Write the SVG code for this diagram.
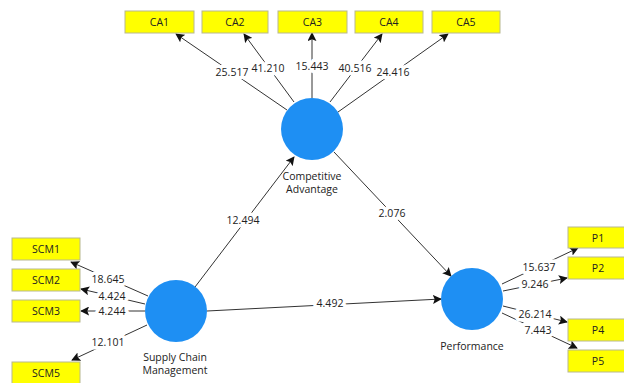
<svg xmlns="http://www.w3.org/2000/svg" width="624" height="383" viewBox="0 0 624 383">
  <style>
    .ind rect { fill: #ffff00; stroke: #b8b890; stroke-width: 1; }
    .ind text, .lv text { font-family: "Open Sans", "Noto Sans", sans-serif; font-size: 10.5px; fill: #222; text-anchor: middle; }
    .lv circle { fill: #1e8ff3; }
    .edge line { stroke: #333; stroke-width: 1; marker-end: url(#arrow); }
    .val { font-family: "Open Sans", "Noto Sans", sans-serif; font-size: 10.5px; fill: #222; text-anchor: middle; stroke: #fff; stroke-width: 7; paint-order: stroke; stroke-linejoin: round; }
  </style>
  <defs>
    <marker id="arrow" viewBox="0 0 10 10" refX="9" refY="5" markerWidth="9" markerHeight="9" markerUnits="userSpaceOnUse" orient="auto">
      <path d="M0,0 L10,5 L0,10 L2,5 z" fill="#111"/>
    </marker>
  </defs>
  <rect width="624" height="383" fill="#fff"/>

  <!-- connectors -->
  <g id="connectors" class="edge">
    <line x1="287" y1="110" x2="176" y2="34"/>
    <line x1="294" y1="102" x2="244" y2="34"/>
    <line x1="312" y1="98" x2="312" y2="33"/>
    <line x1="330" y1="102" x2="382" y2="34"/>
    <line x1="338" y1="112" x2="448" y2="34"/>
    <line x1="148" y1="296" x2="71" y2="262"/>
    <line x1="145" y1="304" x2="81" y2="289"/>
    <line x1="145" y1="311" x2="81" y2="311"/>
    <line x1="147" y1="325" x2="72" y2="360"/>
    <line x1="502" y1="284" x2="578" y2="248"/>
    <line x1="503" y1="291" x2="567" y2="278"/>
    <line x1="503" y1="306" x2="567" y2="322"/>
    <line x1="502" y1="313" x2="577" y2="348"/>
    <line x1="195" y1="287" x2="294" y2="157"/>
    <line x1="334" y1="152" x2="451" y2="276"/>
    <line x1="207" y1="311" x2="441" y2="299"/>
    <text class="val" x="232" y="76">25.517</text>
    <text class="val" x="268" y="72">41.210</text>
    <text class="val" x="312" y="70">15.443</text>
    <text class="val" x="355" y="72">40.516</text>
    <text class="val" x="393" y="76">24.416</text>
    <text class="val" x="108" y="283">18.645</text>
    <text class="val" x="112" y="300">4.424</text>
    <text class="val" x="112" y="315">4.244</text>
    <text class="val" x="108" y="346">12.101</text>
    <text class="val" x="539" y="271">15.637</text>
    <text class="val" x="535" y="288">9.246</text>
    <text class="val" x="535" y="318">26.214</text>
    <text class="val" x="538" y="334">7.443</text>
    <text class="val" x="243" y="224">12.494</text>
    <text class="val" x="392" y="217">2.076</text>
    <text class="val" x="330" y="307">4.492</text>
  </g>

  <!-- latent variables -->
  <g id="competitive-advantage" class="lv">
    <circle cx="312" cy="129" r="31"/>
    <text x="312" y="180">Competitive</text>
    <text x="312" y="193">Advantage</text>
  </g>
  <g id="supply-chain-management" class="lv">
    <circle cx="176" cy="311" r="31"/>
    <text x="175" y="361">Supply Chain</text>
    <text x="175" y="374">Management</text>
  </g>
  <g id="performance" class="lv">
    <circle cx="472" cy="299" r="31"/>
    <text x="472" y="350">Performance</text>
  </g>

  <!-- indicators -->
  <g id="CA1" class="ind"><rect x="125" y="11" width="69" height="22"/><text x="159.5" y="26">CA1</text></g>
  <g id="CA2" class="ind"><rect x="202" y="11" width="66" height="22"/><text x="235" y="26">CA2</text></g>
  <g id="CA3" class="ind"><rect x="278" y="11" width="69" height="22"/><text x="312.5" y="26">CA3</text></g>
  <g id="CA4" class="ind"><rect x="355" y="11" width="68" height="22"/><text x="389" y="26">CA4</text></g>
  <g id="CA5" class="ind"><rect x="432" y="11" width="68" height="22"/><text x="466" y="26">CA5</text></g>
  <g id="SCM1" class="ind"><rect x="12" y="238" width="68" height="22"/><text x="46" y="253">SCM1</text></g>
  <g id="SCM2" class="ind"><rect x="12" y="269" width="68" height="22"/><text x="46" y="284">SCM2</text></g>
  <g id="SCM3" class="ind"><rect x="12" y="300" width="68" height="22"/><text x="46" y="315">SCM3</text></g>
  <g id="SCM5" class="ind"><rect x="12" y="362" width="68" height="22"/><text x="46" y="377">SCM5</text></g>
  <g id="P1" class="ind"><rect x="568" y="227" width="60" height="21"/><text x="598" y="242">P1</text></g>
  <g id="P2" class="ind"><rect x="568" y="257" width="60" height="22"/><text x="598" y="272">P2</text></g>
  <g id="P4" class="ind"><rect x="568" y="319" width="60" height="22"/><text x="598" y="334">P4</text></g>
  <g id="P5" class="ind"><rect x="568" y="350" width="60" height="22"/><text x="598" y="365">P5</text></g>
</svg>
